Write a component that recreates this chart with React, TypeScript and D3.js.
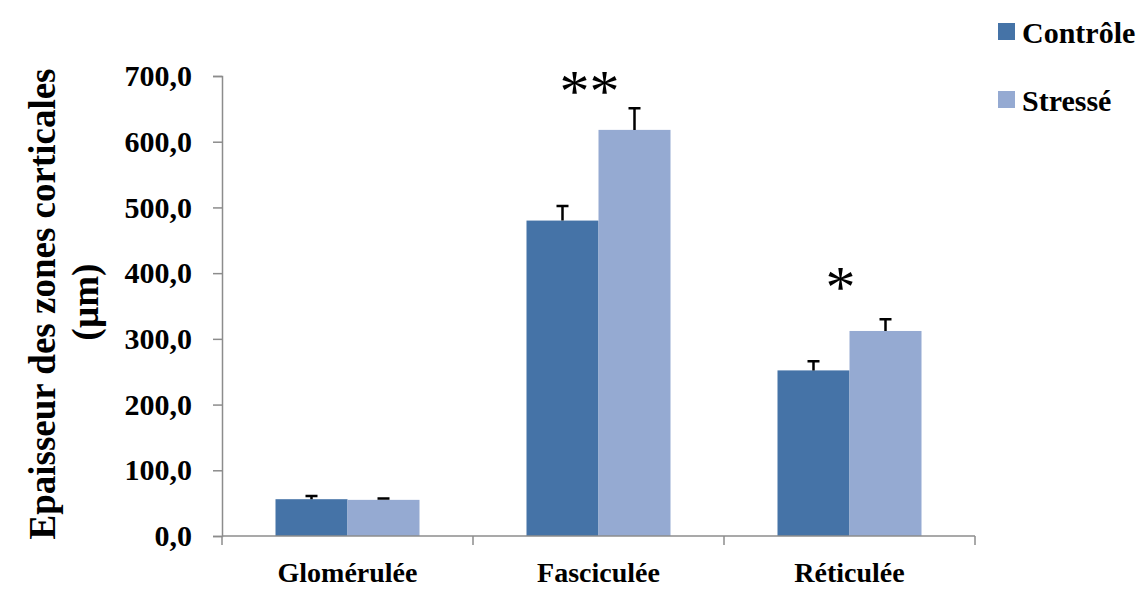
import React, { useEffect, useRef } from "react";
import * as d3 from "d3";

const categories = ["Glomérulée", "Fasciculée", "Réticulée"];
const series = ["Contrôle", "Stressé"];
const controle = [56, 480, 252];
const stresse = [55, 618, 312];
const controleErr = [5, 22, 14];
const stresseErr = [2, 33, 18];
const yTicks = [0, 100, 200, 300, 400, 500, 600, 700];
const stars = ["", "**", "*"];
const starLevel = [0, 674, 376];

const colors = ["#4573A7", "#95AAD2"];

export default function App() {
  const ref = useRef<SVGSVGElement>(null);

  useEffect(() => {
    const width = 1144;
    const height = 589;
    const margin = { top: 76, right: 169, bottom: 53, left: 222 };
    const svg = d3.select(ref.current);
    svg.selectAll("*").remove();
    svg.attr("width", width).attr("height", height);

    const font = "'Liberation Serif', 'Times New Roman', serif";

    const x0 = d3.scaleBand().domain(categories).range([margin.left, width - margin.right]);
    const x1 = d3.scaleBand().domain(series).range([0, x0.bandwidth()]).paddingOuter(0.743);
    const y = d3.scaleLinear().domain([0, 700]).range([height - margin.bottom, margin.top]);

    const values = [controle, stresse];
    const errs = [controleErr, stresseErr];

    // bars
    series.forEach((s, si) => {
      const g = svg.append("g");
      g.selectAll("rect").data(categories).enter()
        .append("rect")
        .attr("x", c => x0(c)! + x1(s)!)
        .attr("width", x1.bandwidth())
        .attr("y", (c, i) => y(values[si][i]))
        .attr("height", (c, i) => y(0) - y(values[si][i]))
        .attr("fill", colors[si]);

      // error bars (up only)
      g.selectAll("path.err").data(categories).enter()
        .append("path")
        .attr("class", "err")
        .attr("d", (c, i) => {
          const cx = x0(c)! + x1(s)! + x1.bandwidth() / 2;
          const top = y(values[si][i] + errs[si][i]);
          return `M${cx},${y(values[si][i])}V${top}M${cx - 6},${top}H${cx + 6}`;
        })
        .attr("stroke", "#000")
        .attr("stroke-width", 2.5)
        .attr("fill", "none");
    });

    // y axis
    const yAxis = d3.axisLeft(y).tickValues(yTicks).tickSize(9).tickPadding(21)
      .tickFormat(d => d3.format(".1f")(d as number).replace(".", ","));
    const ya = svg.append("g").attr("transform", `translate(${margin.left},0)`).call(yAxis);
    ya.select(".domain").attr("stroke", "#8c8c8c").attr("stroke-width", 1.5);
    ya.selectAll(".tick line").attr("stroke", "#8c8c8c").attr("stroke-width", 1.5);
    ya.selectAll(".tick text").attr("font-family", font).attr("font-size", 30)
      .attr("font-weight", "bold").attr("fill", "#000");

    // x axis
    const xa = svg.append("g").attr("transform", `translate(0,${y(0)})`);
    xa.append("line").attr("x1", margin.left).attr("x2", width - margin.right)
      .attr("stroke", "#8c8c8c").attr("stroke-width", 1.5);
    const bounds = categories.map(c => x0(c)!).concat([width - margin.right]);
    xa.selectAll("line.tk").data(bounds).enter().append("line")
      .attr("class", "tk")
      .attr("x1", d => d).attr("x2", d => d).attr("y1", 0).attr("y2", 9)
      .attr("stroke", "#8c8c8c").attr("stroke-width", 1.5);
    xa.selectAll("text").data(categories).enter().append("text")
      .attr("x", c => x0(c)! + x0.bandwidth() / 2)
      .attr("y", 46)
      .attr("text-anchor", "middle")
      .attr("font-family", font).attr("font-size", 28).attr("font-weight", "bold")
      .text(c => c);

    // significance stars
    svg.selectAll("text.star").data(categories).enter().append("text")
      .attr("class", "star")
      .attr("x", c => x0(c)! + x0.bandwidth() / 2 - 9)
      .attr("y", (c, i) => y(starLevel[i]) + 18)
      .attr("text-anchor", "middle")
      .attr("font-family", font).attr("font-size", 60)
      .text((c, i) => stars[i]);

    // y title
    svg.append("text")
      .attr("transform", `translate(55,304) rotate(-90)`)
      .attr("text-anchor", "middle")
      .attr("font-family", font).attr("font-size", 37).attr("font-weight", "bold")
      .text("Epaisseur des zones corticales");
    svg.append("text")
      .attr("transform", `translate(98,302) rotate(-90)`)
      .attr("text-anchor", "middle")
      .attr("font-family", font).attr("font-size", 37).attr("font-weight", "bold")
      .text("(µm)");

    // legend
    const lg = svg.append("g");
    series.forEach((s, i) => {
      lg.append("rect").attr("x", 998).attr("y", 23 + i * 68).attr("width", 17).attr("height", 17)
        .attr("fill", colors[i]);
      lg.append("text").attr("x", 1022).attr("y", 43 + i * 68)
        .attr("font-family", font).attr("font-size", 30).attr("font-weight", "bold")
        .text(s);
    });
  }, []);

  return <svg ref={ref} style={{ position: "absolute", left: 0, top: 0 }}></svg>;
}
